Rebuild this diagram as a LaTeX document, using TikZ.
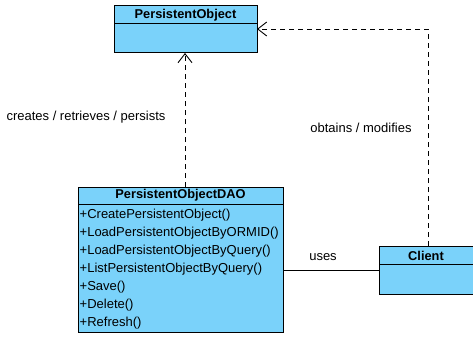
\documentclass[tikz,border=0pt]{standalone}
\usepackage{fontspec}
\setmainfont{Liberation Sans}
\usetikzlibrary{arrows.meta}
\definecolor{classfill}{RGB}{122,210,250}
\begin{document}
\begin{tikzpicture}[x=1pt,y=-1pt,
  classbox/.style={draw=black,fill=classfill,line width=1pt,anchor=north west,inner sep=0pt,outer sep=0pt},
  title/.style={font=\fontsize{12.8}{14}\selectfont\bfseries,inner sep=0pt},
  member/.style={font=\fontsize{13}{14}\selectfont,anchor=west,inner sep=0pt},
  lbl/.style={font=\fontsize{13}{14}\selectfont,inner sep=0pt},
  dep/.style={draw=black,line width=0.9pt,dash pattern=on 5pt off 4pt,-{Straight Barb[length=9pt,width=14pt,line width=0.9pt]}},
  assoc/.style={draw=black,line width=0.9pt}]
\useasboundingbox (0,0) rectangle (473,342);
% PersistentObject
\node[classbox,minimum width=143pt,minimum height=47pt] (po) at (114,6) {};
\draw[line width=1pt] (114,24) -- (257,24);
\node[title] (potitle) at (185.5,15) {PersistentObject};
% PersistentObjectDAO
\node[classbox,minimum width=205pt,minimum height=145pt] (dao) at (78,187) {};
\draw[line width=1pt] (78,204) -- (283,204);
\node[title] (daotitle) at (180.5,195.5) {PersistentObjectDAO};
\node[member] (m1) at (79.5,215) {+CreatePersistentObject()};
\node[member] (m2) at (79.5,233) {+LoadPersistentObjectByORMID()};
\node[member] (m3) at (79.5,251) {+LoadPersistentObjectByQuery()};
\node[member] (m4) at (79.5,269) {+ListPersistentObjectByQuery()};
\node[member] (m5) at (79.5,287) {+Save()};
\node[member] (m6) at (79.5,305) {+Delete()};
\node[member] (m7) at (79.5,323) {+Refresh()};
% Client
\node[classbox,minimum width=96pt,minimum height=48pt] (client) at (379,246) {};
\draw[line width=1pt] (379,264) -- (475,264);
\node[title] (clienttitle) at (426,255.5) {Client};
% connectors
\coordinate (ax) at (185,0);
\coordinate (cx) at (428,29);
\coordinate (uy) at (0,270);
\draw[dep] (ax |- dao.north) -- (ax |- po.south);
\draw[dep] (cx |- client.north) -- (cx) -- (po.east |- cx);
\draw[assoc] (dao.east |- uy) -- (client.west |- uy);
% labels
\node[lbl] (l1) at (86,117) {creates / retrieves / persists};
\node[lbl] (l2) at (361,128) {obtains / modifies};
\node[lbl] (l3) at (323,257) {uses};
\end{tikzpicture}
\end{document}
